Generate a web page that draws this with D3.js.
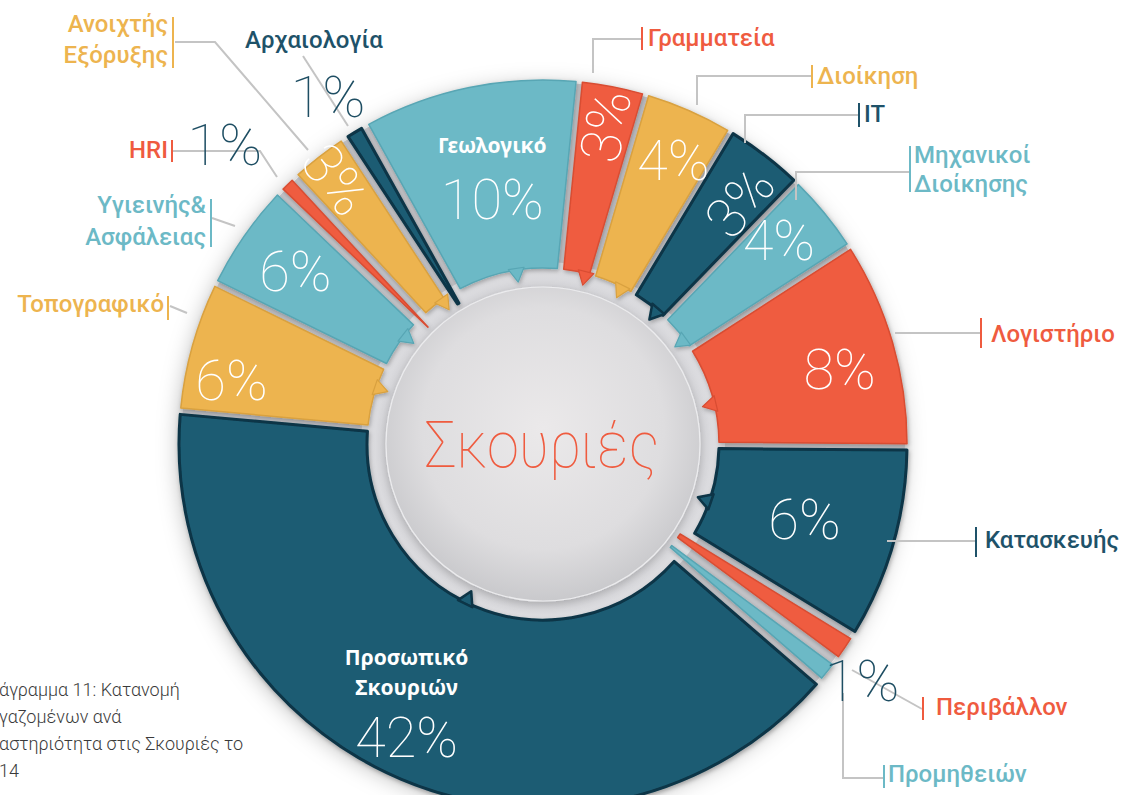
<!DOCTYPE html>
<html><head><meta charset="utf-8">
<script src="https://cdn.jsdelivr.net/npm/d3@7"></script>
<style>
html,body{margin:0;padding:0;background:#fff;overflow:hidden}
svg{display:block}
</style></head><body>
<svg id="chart" width="1137" height="795"></svg>
<script>
// ---------- data ----------
const categories = ["Γεωλογικό","Γραμματεία","Διοίκηση","IT","Μηχανικοί Διοίκησης","Λογιστήριο","Κατασκευής","Περιβάλλον","Προμηθειών","Προσωπικό Σκουριών","Τοπογραφικό","Υγιεινής& Ασφάλειας","HRI","Ανοιχτής Εξόρυξης","Αρχαιολογία"];
const percents   = [10, 3, 4, 3, 4, 8, 6, 1, 1, 42, 6, 6, 1, 3, 1];
// angular share of each slice as drawn in the picture (%)
const shares     = [9.67, 2.96, 4.06, 3.63, 3.64, 9.25, 8.63, 1.39, 1.19, 40.1, 5.83, 4.86, 0.99, 2.67, 1.13];
const centerTitle = "Σκουριές";
const captionLines = ["άγραμμα 11: Κατανομή", "γαζομένων ανά", "αστηριότητα στις Σκουριές το", "14"];

// ---------- style ----------
const C = {teal:"#6cb9c6", red:"#ef5b3f", yellow:"#edb44f", dark:"#1d5c73"};
const STROKE = {teal:"#58a6b4", red:"#d84d33", yellow:"#d9a13f", dark:"#0a3446"};
const hue = d3.scaleOrdinal().domain(categories)
  .range(["teal","red","yellow","dark","teal","red","dark","red","teal","dark","yellow","teal","red","yellow","dark"]);
const TXT = {teal:"#6cb9c6", red:"#ef5b3f", yellow:"#edb44f", dark:"#1e5269"};

const W = 1137, H = 795, cx = 543, cy = 444;
const R = 364, R0 = 176, RS = 164;
const deg = Math.PI/180;
const startA = -29.1*deg;

const svg = d3.select("#chart");
const defs = svg.append("defs");
const f1 = defs.append("filter").attr("id","ringShadow").attr("x","-30%").attr("y","-30%").attr("width","160%").attr("height","160%");
f1.append("feDropShadow").attr("dx",-2).attr("dy",4).attr("stdDeviation",11).attr("flood-color","#000").attr("flood-opacity",0.28);
const f2 = defs.append("filter").attr("id","segShadow").attr("x","-20%").attr("y","-20%").attr("width","140%").attr("height","140%");
f2.append("feDropShadow").attr("dx",1).attr("dy",2).attr("stdDeviation",2).attr("flood-color","#000").attr("flood-opacity",0.28);
const f3 = defs.append("filter").attr("id","discShadow").attr("x","-30%").attr("y","-30%").attr("width","160%").attr("height","160%");
f3.append("feDropShadow").attr("dx",0).attr("dy",3).attr("stdDeviation",5).attr("flood-color","#000").attr("flood-opacity",0.22);

const g1 = defs.append("radialGradient").attr("id","disc").attr("cx","50%").attr("cy","45%").attr("r","55%");
g1.append("stop").attr("offset","0%").attr("stop-color","#ebe9ea");
g1.append("stop").attr("offset","70%").attr("stop-color","#dedddf");
g1.append("stop").attr("offset","100%").attr("stop-color","#c9c9cc");
const g2 = defs.append("radialGradient").attr("id","ring").attr("cx","50%").attr("cy","50%").attr("r","50%");
g2.append("stop").attr("offset","80%").attr("stop-color","#d2d2d6");
g2.append("stop").attr("offset","100%").attr("stop-color","#e0e0e3");

const root = svg.append("g").attr("transform",`translate(${cx},${cy})`);

// backing disc (gap colour) with outer shadow
root.append("circle").attr("r",R-2).attr("fill","#c4c4c8").attr("filter","url(#ringShadow)");
root.append("circle").attr("r",R0+6).attr("fill","url(#ring)");

const pie = d3.pie().sort(null).value((d,i)=>shares[i]).startAngle(startA).endAngle(startA+2*Math.PI);
const arcs = pie(categories);
const isSliver = d => percents[d.index] <= 1;
const arc = d3.arc()
  .innerRadius(d => isSliver(d) ? RS : R0)
  .outerRadius(R)
  .padRadius(R)
  .padAngle(d => (isSliver(d) ? 10 : 6.4)/R);

const segG = root.append("g").attr("filter","url(#segShadow)");
segG.selectAll("path.seg").data(arcs).join("path").attr("class","seg")
  .attr("d",arc)
  .attr("fill",d=>C[hue(d.data)])
  .attr("stroke",d=>STROKE[hue(d.data)])
  .attr("stroke-width",d=>hue(d.data)==="dark"?3:1.5)
  .attr("stroke-linejoin","round");

// little inward-pointing tabs on the inner edge of the wide slices
const tab = d3.symbol(d3.symbolTriangle, 110);
segG.selectAll("path.tab").data(arcs.filter(d=>!isSliver(d))).join("path").attr("class","tab")
  .attr("d",tab)
  .attr("transform",d=>{
    const m = (d.startAngle+d.endAngle)/2 + 3*deg;
    const r = R0 - 3;
    return `translate(${r*Math.sin(m)},${-r*Math.cos(m)}) rotate(${m/deg+180})`;
  })
  .attr("fill",d=>C[hue(d.data)])
  .attr("stroke",d=>STROKE[hue(d.data)])
  .attr("stroke-width",d=>hue(d.data)==="dark"?2.5:1.2)
  .attr("stroke-linejoin","round");

// inner disc
root.append("circle").attr("r",157).attr("fill","url(#disc)").attr("stroke","#ececee").attr("stroke-width",1.2).attr("filter","url(#discShadow)");
root.append("g").attr("transform","translate(-1,23) scale(0.89,1)")
  .append("text").attr("text-anchor","middle")
  .attr("font-family","Roboto, 'Noto Sans', sans-serif").attr("font-weight",100).attr("font-size",65)
  .attr("fill","#ef5b3f").text(centerTitle);

// ---------- callouts (leader lines + category names) ----------
const callouts = [
 {name:"Ανοιχτής Εξόρυξης", lines:["Ανοιχτής","Εξόρυξης"], anchor:"end", x:168, y:[32,63], bar:[173,17,68], lead:[[175,42],[215,42],[308,150]]},
 {name:"Αρχαιολογία", lines:["Αρχαιολογία"], anchor:"start", x:245, y:[48], bar:null, lead:[[303,56],[348,126]]},
 {name:"HRI", lines:["HRI"], anchor:"end", x:168, y:[158], bar:[172,140,162], lead:[[173,151],[260,151],[277,177]]},
 {name:"Υγιεινής& Ασφάλειας", lines:["Υγιεινής&","Ασφάλειας"], anchor:"end", x:206, y:[213,245], bar:[211,199,247], lead:[[212,218],[235,226]]},
 {name:"Τοπογραφικό", lines:["Τοπογραφικό"], anchor:"end", x:164, y:[312], bar:[168,296,320], lead:[[170,306],[187,313]]},
 {name:"Γραμματεία", lines:["Γραμματεία"], anchor:"start", x:648, y:[46], bar:[642,27,50], lead:[[641,39],[593,39],[593,73]]},
 {name:"Διοίκηση", lines:["Διοίκηση"], anchor:"start", x:817, y:[84], bar:[812,65,88], lead:[[811,76],[697,76],[697,105]]},
 {name:"IT", lines:["IT"], anchor:"start", x:864, y:[122], bar:[859,103,127], lead:[[858,115],[745,115],[745,143]]},
 {name:"Μηχανικοί Διοίκησης", lines:["Μηχανικοί","Διοίκησης"], anchor:"start", x:914, y:[163,192], bar:[910,146,192], lead:[[909,172],[796,172],[796,200]]},
 {name:"Λογιστήριο", lines:["Λογιστήριο"], anchor:"start", x:991, y:[342], bar:[981,318,348], lead:[[895,333],[980,333]]},
 {name:"Κατασκευής", lines:["Κατασκευής"], anchor:"start", x:985, y:[548], bar:[976,527,557], lead:[[887,541],[975,541]]},
 {name:"Περιβάλλον", lines:["Περιβάλλον"], anchor:"start", x:936, y:[715], bar:[923,697,720], lead:[[852,670],[922,709]]},
 {name:"Προμηθειών", lines:["Προμηθειών"], anchor:"start", x:888, y:[782], bar:[884,765,788], lead:[[843,693],[843,778],[883,778]]}
];
const cg = svg.append("g");
const line = d3.line();
callouts.forEach(c=>{
  const col = TXT[hue(c.name)];
  cg.append("path").attr("d",line(c.lead)).attr("fill","none").attr("stroke","#c4c4c4").attr("stroke-width",2);
  if (c.bar) cg.append("line").attr("x1",c.bar[0]).attr("x2",c.bar[0]).attr("y1",c.bar[1]).attr("y2",c.bar[2])
      .attr("stroke",col).attr("stroke-width",2);
  c.lines.forEach((s,i)=> cg.append("text").attr("x",c.x).attr("y",c.y[i]).attr("text-anchor",c.anchor)
      .attr("font-family","Roboto, 'Noto Sans', sans-serif").attr("font-weight",500).attr("font-size",24)
      .attr("fill",col).text(s));
});

// ---------- percentage labels ----------
const PCT_FONT = "Roboto, 'Open Sans', sans-serif";
const labelR = {"Γεωλογικό":250,"Γραμματεία":324,"Κατασκευής":272,"Προσωπικό Σκουριών":323,"Ανοιχτής Εξόρυξης":336,"Λογιστήριο":306,"Τοπογραφικό":318,"Υγιεινής& Ασφάλειας":302};
const labelDA = {"Τοπογραφικό":-4,"Λογιστήριο":2,"Προσωπικό Σκουριών":2,"Διοίκηση":1,"IT":1.5,"Μηχανικοί Διοίκησης":-1.5};
const outsidePct = {"Αρχαιολογία":{r:409,da:-0.6},"HRI":{r:437,da:-2.2},"Περιβάλλον":{r:397,da:2.5}};
const polar = (a,r)=>[r*Math.sin(a), -r*Math.cos(a)];
const labelsG = svg.append("g").attr("transform",`translate(${cx},${cy})`);

arcs.forEach(d=>{
  const name = d.data, p = percents[d.index];
  const mid = (d.startAngle+d.endAngle)/2;
  if (p <= 1) {
    const o = outsidePct[name]; if(!o) return;
    const [x,y] = polar(mid+o.da*deg, o.r);
    labelsG.append("text").attr("x",x).attr("y",y).attr("dy","0.355em").attr("text-anchor","middle")
      .attr("font-family",PCT_FONT).attr("font-weight",100).attr("font-size",58).attr("fill","#1e4e63")
      .text(p+"%");
    return;
  }
  const a = mid + (labelDA[name]||0)*deg;
  const r = labelR[name]||312;
  const [x,y] = polar(a,r);
  let rot = 0;
  if (p === 3) {
    let ad = ((a/deg) % 360 + 540) % 360 - 180;   // -180..180
    rot = ad - 90; if (rot < -90) rot += 180;
  }
  const t = labelsG.append("g").attr("transform",`translate(${x},${y}) rotate(${rot})`);
  t.append("text").attr("text-anchor","middle").attr("dy","0.355em")
    .attr("font-family",PCT_FONT).attr("font-weight",100).attr("font-size",56).attr("fill","#fff")
    .text(p+"%");
  if (name === "Γεωλογικό") {
    t.append("text").attr("text-anchor","middle").attr("y",-46)
      .attr("font-family","'Noto Sans', sans-serif").attr("font-weight",700).attr("font-size",21).attr("fill","#fff").text(name);
  }
  if (name === "Προσωπικό Σκουριών") {
    const parts = name.split(" ");
    parts.forEach((s,i)=> t.append("text").attr("text-anchor","middle").attr("y",-72+i*30)
      .attr("font-family","'Noto Sans', sans-serif").attr("font-weight",700).attr("font-size",21).attr("fill","#fff").text(s));
  }
});

// caption
const cap = svg.append("g");
captionLines.forEach((s,i)=> cap.append("text").attr("x",-1).attr("y",696+i*27)
  .attr("font-family","Roboto, 'Open Sans', sans-serif").attr("font-weight",300).attr("font-size",18)
  .attr("fill","#3a3a3a").text(s));
</script>
</body></html>
